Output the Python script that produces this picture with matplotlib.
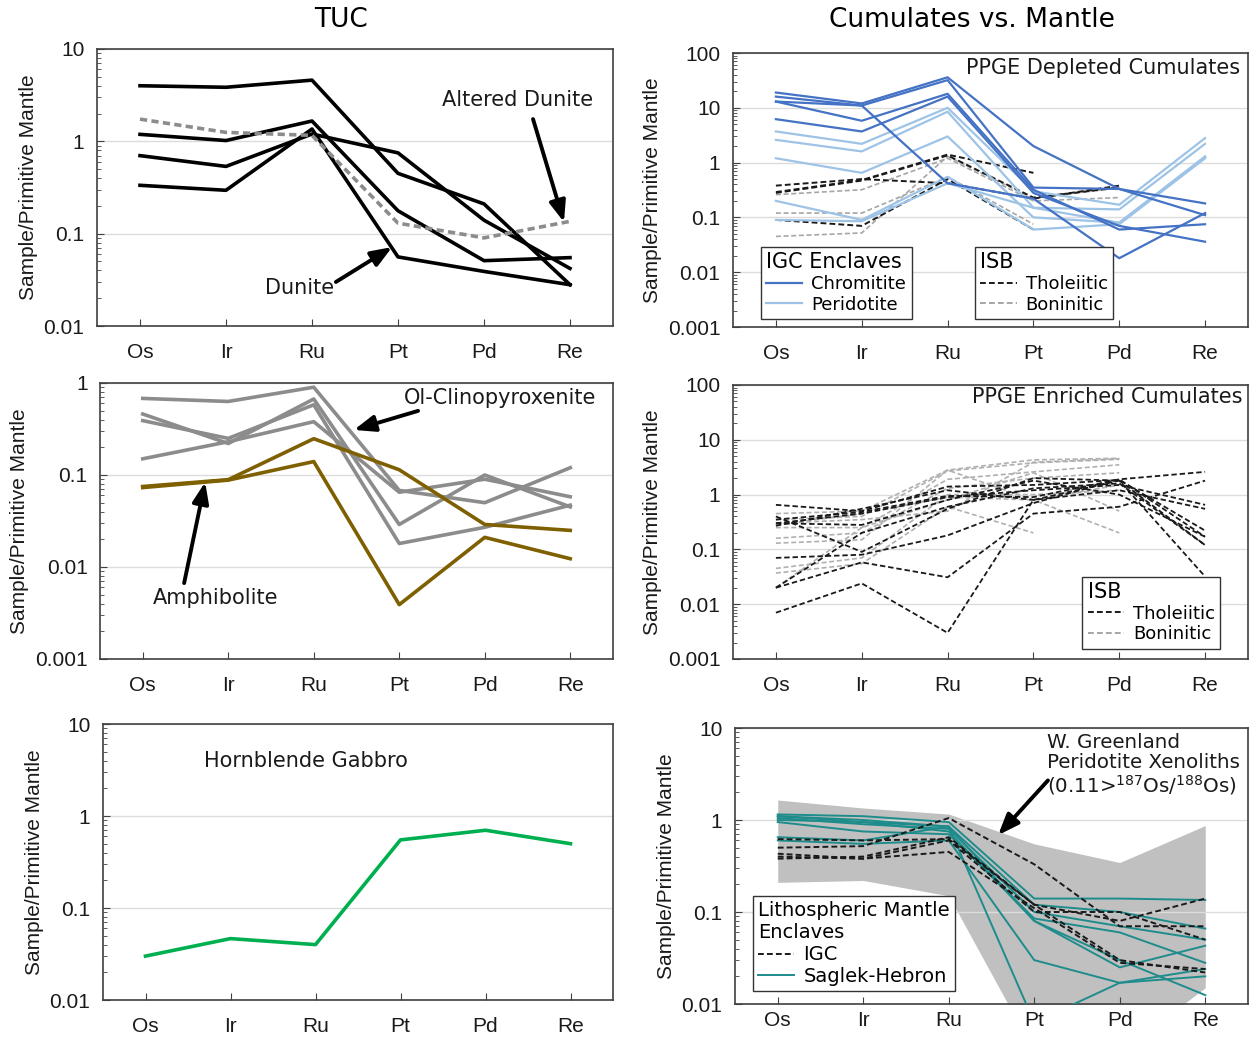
import numpy as np
import matplotlib
matplotlib.use('Agg')
import matplotlib.pyplot as plt
from matplotlib import ticker
from matplotlib.lines import Line2D

plt.rcParams['font.family'] = ['Liberation Sans', 'DejaVu Sans']
plt.rcParams['mathtext.default'] = 'regular'

elements = ['Os', 'Ir', 'Ru', 'Pt', 'Pd', 'Re']
nan = np.nan

# --- TUC panels ---
dunite = [
    [4.0, 3.85, 4.6, 0.45, 0.21, 0.028],
    [1.19, 1.02, 1.66, 0.177, 0.051, 0.055],
    [0.70, 0.535, 1.2, 0.75, 0.14, 0.042],
    [0.334, 0.295, 1.36, 0.056, 0.039, 0.028],
]
altered_dunite = [1.74, 1.25, 1.16, 0.13, 0.09, 0.136]

ol_cpx = [
    [0.68, 0.63, 0.9, 0.068, 0.05, 0.12],
    [0.46, 0.22, 0.67, 0.029, 0.1, 0.045],
    [0.39, 0.25, 0.58, 0.018, 0.027, 0.047],
    [0.15, 0.23, 0.38, 0.065, 0.09, 0.058],
]
amphibolite = [
    [0.075, 0.089, 0.248, 0.114, 0.029, 0.025],
    [0.073, 0.088, 0.14, 0.0039, 0.021, 0.0123],
]
hbl_gabbro = [0.030, 0.0465, 0.040, 0.55, 0.70, 0.50]

# --- PPGE depleted cumulates ---
chromitite = [
    [19, 12, 36, 2.0, 0.33, 0.18],
    [16, 11, 32, 0.35, 0.33, 0.11],
    [13, 5.8, 18, 0.32, 0.06, 0.075],
    [13, 11, 0.42, 0.22, 0.018, 0.12],
    [6.2, 3.7, 16, 0.28, 0.07, 0.036],
]
peridotite = [
    [3.7, 2.2, 10, 0.3, 0.17, 2.8],
    [2.6, 1.6, 8.5, 0.15, 0.14, 2.2],
    [1.2, 0.65, 3.0, 0.1, 0.08, 1.3],
    [0.2, 0.09, 0.55, 0.06, 0.075, 1.2],
    [0.09, 0.085, 0.42, 0.15, 0.08, 1.25],
]
dep_thol = [
    [0.38, 0.5, 0.42, 0.22, 0.38, nan],
    [0.29, 0.48, 1.4, 0.65, nan, nan],
    [0.09, 0.07, 0.5, 0.06, nan, nan],
    [0.28, 0.47, 1.35, 0.23, 0.35, nan],
]
dep_bon = [
    [0.26, 0.32, 1.2, 0.2, 0.23, nan],
    [0.12, 0.12, 0.55, 0.075, nan, nan],
    [0.045, 0.052, 1.3, 0.22, 0.35, nan],
]

# --- PPGE enriched cumulates ---
enr_thol = [
    [0.65, 0.5, 1.4, 1.5, 1.85, 0.22],
    [0.4, 0.09, 0.55, 2.0, 1.8, 0.12],
    [0.3, 0.45, 0.9, 1.2, 1.5, 0.65],
    [0.27, 0.55, 1.2, 0.8, 1.2, 0.55],
    [0.3, 0.28, 0.8, 1.8, 1.0, 0.17],
    [0.07, 0.08, 0.18, 0.7, 1.9, 2.6],
    [0.02, 0.058, 0.031, 0.45, 0.6, 1.8],
    [0.007, 0.024, 0.003, 0.8, 1.8, 0.032],
    [0.02, 0.2, 0.6, 1.3, 1.6, 0.12],
    [0.35, 0.48, 0.95, 0.9, 1.9, 0.17],
]
enr_bon = [
    [0.45, 0.5, 2.8, 4.3, 4.6, nan],
    [0.35, 0.4, 2.7, 3.8, 4.4, nan],
    [0.25, 0.25, 1.9, 2.6, 3.5, nan],
    [0.16, 0.2, 1.3, 2.0, 2.5, nan],
    [0.13, 0.15, 2.8, 0.8, 0.2, nan],
    [0.045, 0.07, 1.0, 1.0, 1.2, nan],
    [0.037, 0.055, 0.6, 0.2, nan, nan],
    [0.02, 0.25, 0.8, 2.5, 0.5, nan],
    [0.3, 0.35, 0.5, 3.9, 4.5, nan],
    [0.28, 0.45, 0.9, 0.8, 1.5, nan],
]

# --- Lithospheric mantle ---
xeno_upper = [1.65, 1.35, 1.16, 0.55, 0.345, 0.87]
xeno_lower = [0.21, 0.22, 0.15, 0.003, 0.003, 0.015]
saglek = [
    [1.15, 1.1, 0.95, 0.14, 0.14, 0.135],
    [1.1, 1.0, 0.85, 0.12, 0.1, 0.066],
    [1.05, 0.9, 0.8, 0.1, 0.07, 0.05],
    [0.95, 0.75, 0.7, 0.085, 0.06, 0.028],
    [0.65, 0.6, 0.85, 0.08, 0.025, 0.043],
    [0.6, 0.55, 0.6, 0.03, 0.017, 0.024],
    [1.0, 0.95, 0.85, 0.0063, 0.017, 0.02],
    [1.1, 0.95, 0.75, 0.08, 0.03, 0.0125],
]
igc = [
    [0.5, 0.52, 1.05, 0.33, 0.07, 0.07],
    [0.62, 0.6, 0.62, 0.12, 0.08, 0.14],
    [0.43, 0.38, 0.6, 0.1, 0.1, 0.05],
    [0.4, 0.38, 0.45, 0.11, 0.028, 0.024],
    [0.38, 0.4, 0.65, 0.12, 0.03, 0.022],
]

x = np.arange(len(elements))
DASH = (0, (3, 1.6))
ANN = dict(family='DejaVu Sans', fontsize=15, color='#1a1a1a')


def style_axis(ax, ylim):
    ax.set_yscale('log')
    ax.set_ylim(*ylim)
    ax.set_xlim(-0.5, 5.5)
    ax.set_xticks(x)
    ax.set_xticklabels(elements)
    ax.yaxis.set_major_locator(ticker.LogLocator(base=10, numticks=10))
    ax.yaxis.set_minor_locator(ticker.LogLocator(base=10, subs=np.arange(2, 10), numticks=10))
    ax.yaxis.set_minor_formatter(ticker.NullFormatter())
    ax.yaxis.set_major_formatter(ticker.FuncFormatter(lambda v, p: f'{v:g}'))
    ax.tick_params(which='major', direction='in', length=5, labelsize=15,
                   color='#404040', labelcolor='#1a1a1a')
    ax.tick_params(axis='y', which='minor', direction='in', length=3, color='#404040')
    ax.tick_params(axis='x', pad=12)
    ax.tick_params(axis='y', pad=9)
    ax.grid(axis='y', which='major', color='#dcdcdc', lw=1)
    for s in ax.spines.values():
        s.set_color('#404040')
        s.set_linewidth(1.2)
    ax.set_ylabel('Sample/Primitive Mantle', fontsize=15, color='#1a1a1a', labelpad=4)


def arrow(ax, tail, tip):
    ax.annotate('', xy=tip, xytext=tail, xycoords='axes fraction',
                arrowprops=dict(arrowstyle='-|>,head_length=0.9,head_width=0.35',
                                lw=2.8, color='black', shrinkA=0, shrinkB=0,
                                mutation_scale=14))


W, H = 1253, 1037
fig = plt.figure(figsize=(W / 100, H / 100), dpi=100)


def rect(l, r, t, b):
    return [l / W, 1 - b / H, (r - l) / W, (b - t) / H]


ax1 = fig.add_axes(rect(97, 613, 49, 326))
ax2 = fig.add_axes(rect(733, 1248, 53, 327))
ax3 = fig.add_axes(rect(100, 613, 383, 659))
ax4 = fig.add_axes(rect(733, 1248, 385, 659))
ax5 = fig.add_axes(rect(103, 613, 724, 1000))
ax6 = fig.add_axes(rect(735, 1248, 728, 1004))

fig.text(341 / W, 1 - 20 / H, 'TUC', ha='center', va='center', family='DejaVu Sans', fontsize=19)
fig.text(972 / W, 1 - 20 / H, 'Cumulates vs. Mantle', ha='center', va='center',
         family='DejaVu Sans', fontsize=19)

# Panel 1: dunites
style_axis(ax1, (0.01, 10))
for row in dunite:
    ax1.plot(x, row, color='black', lw=2.6, zorder=3)
ax1.plot(x, altered_dunite, color='#8c8c8c', lw=2.6, ls=(0, (2, 1.2)), zorder=3)
ax1.text(0.816, 0.816, 'Altered Dunite', transform=ax1.transAxes, ha='center', va='center', **ANN)
arrow(ax1, (0.845, 0.747), (0.905, 0.375))
ax1.text(0.393, 0.137, 'Dunite', transform=ax1.transAxes, ha='center', va='center', **ANN)
arrow(ax1, (0.463, 0.159), (0.572, 0.285))

# Panel 2: PPGE depleted
style_axis(ax2, (0.001, 100))
for row in dep_bon:
    ax2.plot(x, row, color='#a6a6a6', lw=1.2, ls=DASH, zorder=2)
for row in dep_thol:
    ax2.plot(x, row, color='#1a1a1a', lw=1.4, ls=DASH, zorder=2)
for row in peridotite:
    ax2.plot(x, row, color='#9dc3e6', lw=1.6, zorder=3)
for row in chromitite:
    ax2.plot(x, row, color='#4472c4', lw=1.6, zorder=3)
ax2.text(0.984, 0.945, 'PPGE Depleted Cumulates', transform=ax2.transAxes,
         ha='right', va='center', **ANN)
leg_kw = dict(prop=dict(family='DejaVu Sans', size=13), fancybox=False, edgecolor='#333333',
              framealpha=1, borderpad=0.3, handlelength=2.0, handletextpad=0.5,
              labelspacing=0.15, borderaxespad=0, alignment='left')
igc_handles = [Line2D([], [], color='#4472c4', lw=1.6), Line2D([], [], color='#9dc3e6', lw=1.6)]
leg1 = ax2.legend(igc_handles, ['Chromitite', 'Peridotite'], title='IGC Enclaves',
                  loc='lower left', bbox_to_anchor=(0.054, 0.029), **leg_kw)
leg1.get_title().set_fontsize(15)
leg1.get_title().set_family('DejaVu Sans')
ax2.add_artist(leg1)
isb_handles = [Line2D([], [], color='#1a1a1a', lw=1.4, ls=DASH),
               Line2D([], [], color='#a6a6a6', lw=1.4, ls=DASH)]
leg2 = ax2.legend(isb_handles, ['Tholeiitic', 'Boninitic'], title='ISB',
                  loc='lower left', bbox_to_anchor=(0.47, 0.029), **leg_kw)
leg2.get_title().set_fontsize(15)
leg2.get_title().set_family('DejaVu Sans')

# Panel 3: Ol-clinopyroxenite and amphibolite
style_axis(ax3, (0.001, 1))
for row in ol_cpx:
    ax3.plot(x, row, color='#8c8c8c', lw=2.6, zorder=3)
for row in amphibolite:
    ax3.plot(x, row, color='#7f6000', lw=2.6, zorder=3)
ax3.text(0.78, 0.946, 'Ol-Clinopyroxenite', transform=ax3.transAxes, ha='center', va='center', **ANN)
arrow(ax3, (0.62, 0.899), (0.495, 0.83))
ax3.text(0.226, 0.221, 'Amphibolite', transform=ax3.transAxes, ha='center', va='center', **ANN)
arrow(ax3, (0.164, 0.275), (0.205, 0.641))

# Panel 4: PPGE enriched
style_axis(ax4, (0.001, 100))
for row in enr_bon:
    ax4.plot(x, row, color='#b0b0b0', lw=1.2, ls=DASH, zorder=2)
for row in enr_thol:
    ax4.plot(x, row, color='#1a1a1a', lw=1.3, ls=DASH, zorder=3)
ax4.text(0.99, 0.956, 'PPGE Enriched Cumulates', transform=ax4.transAxes,
         ha='right', va='center', **ANN)
leg3 = ax4.legend(isb_handles, ['Tholeiitic', 'Boninitic'], title='ISB',
                  loc='lower right', bbox_to_anchor=(0.946, 0.037), **leg_kw)
leg3.get_title().set_fontsize(15)
leg3.get_title().set_family('DejaVu Sans')

# Panel 5: hornblende gabbro
style_axis(ax5, (0.01, 10))
ax5.plot(x, hbl_gabbro, color='#00b050', lw=2.6, zorder=3)
ax5.text(0.397, 0.866, 'Hornblende Gabbro', transform=ax5.transAxes, ha='center', va='center', **ANN)

# Panel 6: lithospheric mantle
style_axis(ax6, (0.01, 10))
ax6.tick_params(axis='x', pad=5)
ax6.fill_between(x, xeno_lower, xeno_upper, color='#c0c0c0', lw=0, zorder=1)
for row in saglek:
    ax6.plot(x, row, color='#1f8c8c', lw=1.4, zorder=3)
for row in igc:
    ax6.plot(x, row, color='#1a1a1a', lw=1.4, ls=DASH, zorder=4)
ax6.text(0.608, 0.982, 'W. Greenland\nPeridotite Xenoliths\n(0.11>$^{187}$Os/$^{188}$Os)',
         transform=ax6.transAxes, ha='left', va='top', linespacing=1.05,
         family='DejaVu Sans', fontsize=14.3, color='#1a1a1a')
arrow(ax6, (0.61, 0.81), (0.513, 0.612))
lm_handles = [Line2D([], [], color='#1a1a1a', lw=1.4, ls=DASH),
              Line2D([], [], color='#1f8c8c', lw=1.4)]
leg4 = ax6.legend(lm_handles, ['IGC', 'Saglek-Hebron'], title='Lithospheric Mantle\nEnclaves',
                  loc='lower left', bbox_to_anchor=(0.035, 0.047), **leg_kw)
leg4.get_title().set_fontsize(14)
leg4.get_title().set_family('DejaVu Sans')
for t in leg4.get_texts():
    t.set_fontsize(14)

fig.savefig('out.png', dpi=100)
